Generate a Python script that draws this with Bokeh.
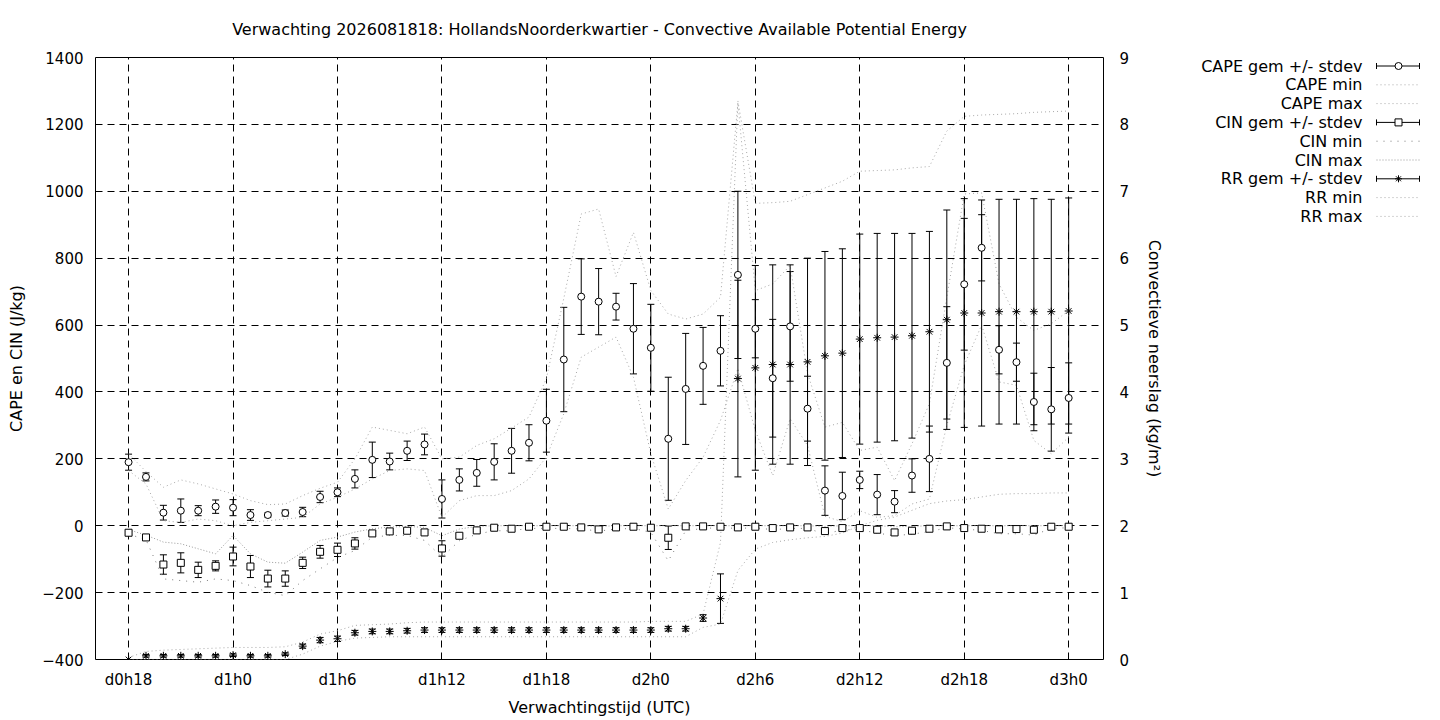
from bokeh.plotting import figure
from bokeh.models import Range1d, LinearAxis, FixedTicker, Title
from bokeh.layouts import row
from bokeh.embed import file_html
from bokeh.resources import INLINE
from bokeh.core.properties import value

# ---------------- data (hourly, d0h18 .. d3h0) ----------------
hours = [18, 19, 20, 21, 22, 23, 24, 25, 26, 27,
         28, 29, 30, 31, 32, 33, 34, 35, 36, 37,
         38, 39, 40, 41, 42, 43, 44, 45, 46, 47,
         48, 49, 50, 51, 52, 53, 54, 55, 56, 57,
         58, 59, 60, 61, 62, 63, 64, 65, 66, 67,
         68, 69, 70, 71, 72]

cape_mean = [190, 146, 39, 45, 45, 57, 54, 32, 32, 38,
             41, 86, 100, 140, 197, 192, 224, 243, 80, 137,
             158, 191, 224, 248, 314, 497, 685, 670, 655, 589,
             532, 260, 409, 478, 523, 750, 589, 441, 596, 350,
             105, 89, 137, 93, 72, 150, 200, 487, 722, 831,
             526, 489, 370, 348, 382]
cape_sd = [24, 12, 22, 35, 15, 20, 24, 16, 6, 9,
           14, 17, 13, 27, 53, 25, 29, 31, 57, 33,
           40, 54, 67, 54, 94, 156, 113, 99, 40, 135,
           130, 184, 166, 115, 105, 250, 87, 176, 164, 97,
           74, 71, 26, 60, 33, 50, 98, 168, 197, 99,
           72, 57, 86, 125, 105]
cape_min = [165, 125, 15, 10, 20, 15, 0, 10, 15, 20,
            25, 65, 85, 110, 140, 165, 170, 165, 25, 75,
            90, 90, 105, 140, 205, 335, 504, 534, 564, 444,
            215, 50, 135, 205, 315, 470, 285, 150, 320, 240,
            28, 12, 45, 25, 30, 65, 80, 300, 480, 600,
            430, 420, 255, 215, 265]
cape_max = [215, 162, 115, 137, 125, 110, 95, 75, 63, 65,
            90, 112, 130, 200, 295, 285, 275, 295, 200, 205,
            240, 260, 292, 325, 440, 680, 932, 947, 745, 877,
            703, 633, 618, 633, 683, 1265, 703, 723, 778, 455,
            295, 309, 225, 235, 135, 245, 365, 683, 992, 995,
            723, 623, 584, 604, 643]

cin_mean = [-21, -35, -116, -111, -132, -120, -92, -122, -158, -158,
            -111, -78, -72, -53, -23, -17, -15, -20, -68, -30,
            -14, -6, -9, -3, -3, -3, -5, -11, -5, -3,
            -6, -36, -2, -2, -3, -5, -3, -7, -5, -5,
            -16, -7, -7, -12, -20, -15, -9, -2, -7, -9,
            -11, -10, -12, -3, -3]
cin_sd = [5, 4, 29, 30, 23, 15, 28, 33, 25, 23,
          17, 19, 20, 17, 6, 4, 4, 4, 23, 6,
          4, 3, 4, 2, 2, 2, 2, 4, 2, 2,
          3, 35, 2, 2, 2, 2, 2, 3, 2, 2,
          4, 3, 3, 4, 4, 4, 3, 2, 3, 3,
          4, 4, 5, 2, 2]
cin_min = [-25, -42, -159, -164, -169, -159, -164, -179, -199, -209,
           -164, -129, -95, -74, -34, -29, -29, -44, -94, -45,
           -25, -15, -15, -8, -8, -8, -10, -16, -10, -8,
           -20, -105, -15, -8, -6, -8, -6, -12, -8, -8,
           -25, -12, -12, -22, -30, -25, -18, -6, -10, -14,
           -24, -24, -28, -8, -6]
cin_max = [-12, -28, -49, -54, -69, -84, -29, -84, -109, -112,
           -79, -44, -34, -19, -9, -4, -2, -5, -30, -10,
           -2, 0, 0, 0, 0, 0, 0, -2, 0, 0,
           0, 0, 0, 0, 0, 0, 0, 0, 0, 0,
           -2, 0, 0, 0, -3, -2, 0, 0, 0, 0,
           0, 0, 0, 0, 0]

rr_mean = [0.0, 0.055, 0.055, 0.055, 0.055, 0.055, 0.065, 0.055, 0.055, 0.08,
           0.2, 0.29, 0.31, 0.40, 0.42, 0.42, 0.43, 0.44, 0.44, 0.44,
           0.44, 0.44, 0.44, 0.44, 0.44, 0.44, 0.44, 0.44, 0.44, 0.44,
           0.44, 0.46, 0.46, 0.62, 0.91, 4.20, 4.36, 4.41, 4.41, 4.45,
           4.54, 4.58, 4.79, 4.81, 4.82, 4.84, 4.90, 5.08, 5.18, 5.18,
           5.20, 5.20, 5.20, 5.20, 5.21]
rr_sd = [0.0, 0.02, 0.02, 0.02, 0.02, 0.02, 0.02, 0.02, 0.02, 0.02,
         0.03, 0.04, 0.04, 0.035, 0.035, 0.035, 0.035, 0.035, 0.035, 0.035,
         0.035, 0.035, 0.035, 0.035, 0.035, 0.035, 0.035, 0.035, 0.035, 0.035,
         0.035, 0.035, 0.035, 0.05, 0.37, 1.47, 1.53, 1.49, 1.49, 1.55,
         1.56, 1.56, 1.57, 1.56, 1.55, 1.53, 1.50, 1.64, 1.71, 1.69,
         1.68, 1.68, 1.69, 1.68, 1.69]
rr_min = [0.0, 0.0, 0.0, 0.0, 0.0, 0.0, 0.0, 0.0, 0.0, 0.0,
          0.08, 0.2, 0.27, 0.32, 0.33, 0.34, 0.34, 0.34, 0.34, 0.34,
          0.34, 0.34, 0.34, 0.34, 0.34, 0.34, 0.34, 0.34, 0.34, 0.34,
          0.34, 0.34, 0.34, 0.48, 0.53, 1.33, 1.65, 1.75, 1.79, 1.82,
          1.84, 1.89, 2.0, 2.08, 2.13, 2.23, 2.33, 2.37, 2.39, 2.43,
          2.47, 2.48, 2.48, 2.49, 2.49]
rr_max = [0.03, 0.12, 0.14, 0.15, 0.16, 0.17, 0.18, 0.18, 0.18, 0.19,
          0.26, 0.38, 0.43, 0.51, 0.52, 0.53, 0.55, 0.56, 0.56, 0.56,
          0.56, 0.56, 0.56, 0.56, 0.56, 0.56, 0.56, 0.56, 0.56, 0.56,
          0.57, 0.57, 0.57, 0.68, 1.75, 8.35, 6.82, 6.83, 6.85, 6.95,
          7.05, 7.15, 7.3, 7.31, 7.32, 7.35, 7.37, 7.9, 8.12, 8.14,
          8.15, 8.16, 8.18, 8.19, 8.2]

tick_hours = [18, 24, 30, 36, 42, 48, 54, 60, 66, 72]
tick_labels = ["d0h18", "d1h0", "d1h6", "d1h12", "d1h18", "d2h0", "d2h6", "d2h12", "d2h18", "d3h0"]
left_ticks = [-400, -200, 0, 200, 400, 600, 800, 1000, 1200, 1400]
right_ticks = [0, 1, 2, 3, 4, 5, 6, 7, 8, 9]

title_text = "Verwachting 2026081818: HollandsNoorderkwartier - Convective Available Potential Energy"
legend_labels = ["CAPE gem +/- stdev", "CAPE min", "CAPE max",
                 "CIN gem +/- stdev", "CIN min", "CIN max",
                 "RR gem +/- stdev", "RR min", "RR max"]

# ---------------- styling ----------------
FONT = "DejaVu Sans"
FS = "16px"
TFS = "15px"
GRAY = "#a8a8a8"
CIN_MIN_GRAY = "#7a7a7a"
CIN_MAX_GRAY = "#999999"

p = figure(frame_width=1008, frame_height=602, output_backend="svg", toolbar_location=None,
           x_range=Range1d(16.1, 74.0), y_range=Range1d(-400, 1400),
           min_border_left=95, min_border_right=77, min_border_top=57, min_border_bottom=61,
           title=None)
p.extra_y_ranges = {"rr": Range1d(0, 9)}
p.background_fill_color = "white"
p.border_fill_color = "white"
p.outline_line_color = "black"
p.outline_line_width = 1
p.outline_line_alpha = 1.0

# spacer (closest to the frame) then the real title
p.add_layout(Title(text=" ", text_font_size="15px", standoff=0), "above")
p.add_layout(Title(text=title_text, align="center", text_font=FONT, text_font_size=FS,
                   text_font_style="normal", text_color="black", standoff=0), "above")

ax_b = p.xaxis[0]
ax_l = p.yaxis[0]
ax_b.ticker = FixedTicker(ticks=tick_hours)
ax_b.major_label_overrides = {h: s for h, s in zip(tick_hours, tick_labels)}
ax_b.axis_label = "Verwachtingstijd (UTC)"
ax_l.ticker = FixedTicker(ticks=left_ticks)
ax_l.axis_label = "CAPE en CIN (J/kg)"

ax_r = LinearAxis(y_range_name="rr", ticker=FixedTicker(ticks=right_ticks),
                  axis_label="Convectieve neerslag (kg/m²)")
p.add_layout(ax_r, "right")

for ax in [ax_b, ax_l, ax_r]:
    ax.axis_line_color = None
    ax.major_tick_line_color = None
    ax.minor_tick_line_color = None
    ax.major_tick_in = 0
    ax.major_tick_out = 0
    ax.minor_tick_in = 0
    ax.minor_tick_out = 0
    ax.major_label_text_font = FONT
    ax.major_label_text_font_size = TFS
    ax.major_label_text_color = "black"
    ax.axis_label_text_font = FONT
    ax.axis_label_text_font_size = FS
    ax.axis_label_text_font_style = "normal"
    ax.axis_label_text_color = "black"

ax_b.major_label_standoff = 11
ax_b.axis_label_standoff = 6
ax_l.major_label_standoff = 12
ax_l.axis_label_standoff = 13
ax_r.major_label_standoff = 16
ax_r.axis_label_standoff = 13

p.xgrid.ticker = FixedTicker(ticks=tick_hours)
p.ygrid.ticker = FixedTicker(ticks=left_ticks)
for g in [p.xgrid[0], p.ygrid[0]]:
    g.grid_line_color = "black"
    g.grid_line_dash = "7 5"
    g.grid_line_width = 1
    g.grid_line_alpha = 1.0


def errorbars(fig, mean, sd, marker, size, rng=None):
    lo = [m - s for m, s in zip(mean, sd)]
    hi = [m + s for m, s in zip(mean, sd)]
    kw = {} if rng is None else {"y_range_name": rng}
    fig.segment(x0=hours, y0=lo, x1=hours, y1=hi, line_color="black", line_width=1, **kw)
    fig.scatter(hours, lo, marker="dash", size=7, line_color="black", line_width=1, **kw)
    fig.scatter(hours, hi, marker="dash", size=7, line_color="black", line_width=1, **kw)
    return dict(x=hours, y=mean, marker=marker, size=size, kw=kw)


marks = []
marks.append(errorbars(p, cape_mean, cape_sd, "circle", 7))
p.line(hours, cape_min, line_color=GRAY, line_dash="1 3", line_width=1)
p.line(hours, cape_max, line_color=GRAY, line_dash="1 3", line_width=1)
marks.append(errorbars(p, cin_mean, cin_sd, "square", 7))
p.line(hours, cin_min, line_color=CIN_MIN_GRAY, line_dash="1 6", line_width=1)
p.line(hours, cin_max, line_color=CIN_MAX_GRAY, line_dash="1 2", line_width=1)
marks.append(errorbars(p, rr_mean, rr_sd, "asterisk", 8, "rr"))
p.line(hours, rr_min, line_color=GRAY, line_dash="1 3", line_width=1, y_range_name="rr")
p.line(hours, rr_max, line_color=GRAY, line_dash="1 3", line_width=1, y_range_name="rr")

for m in marks:
    p.scatter(m["x"], m["y"], marker=m["marker"], size=m["size"], fill_color="white",
              line_color="black", line_width=1, **m["kw"])

# ---------------- legend panel (its frame is aligned with the main frame) ----------------
lf = figure(frame_width=260, frame_height=602, output_backend="svg", toolbar_location=None,
            x_range=Range1d(0, 260), y_range=Range1d(602, 0),
            x_axis_type=None, y_axis_type=None,
            min_border_left=0, min_border_right=0, min_border_top=0, min_border_bottom=0)
lf.outline_line_color = None
lf.background_fill_color = "white"
lf.border_fill_color = "white"

row_y = [8.5 + 18.8 * i for i in range(len(legend_labels))]
lf.text(x=[182] * len(legend_labels), y=row_y, text=legend_labels,
        text_align="right", text_baseline="middle",
        text_font=value(FONT), text_font_size=FS, text_color="black")

x0s, x1s, xm = 196, 239, 218
styles = [("bar", "circle"), ("dot", (GRAY, "1 3")), ("dot", (GRAY, "1 3")),
          ("bar", "square"), ("dot", (CIN_MIN_GRAY, "1 6")), ("dot", (CIN_MAX_GRAY, "1 2")),
          ("bar", "asterisk"), ("dot", (GRAY, "1 3")), ("dot", (GRAY, "1 3"))]
for yy, (kind, st) in zip(row_y, styles):
    if kind == "bar":
        lf.segment(x0=[x0s], y0=[yy], x1=[x1s], y1=[yy], line_color="black", line_width=1)
        lf.segment(x0=[x0s, x1s], y0=[yy - 3, yy - 3], x1=[x0s, x1s], y1=[yy + 3, yy + 3],
                   line_color="black", line_width=1)
        lf.scatter([xm], [yy], marker=st, size=7, fill_color="white", line_color="black", line_width=1)
    else:
        lf.segment(x0=[x0s], y0=[yy], x1=[x1s], y1=[yy], line_color=st[0], line_dash=st[1], line_width=1)

layout = row(p, lf)
open("out.html", "w").write(file_html(layout, INLINE))
